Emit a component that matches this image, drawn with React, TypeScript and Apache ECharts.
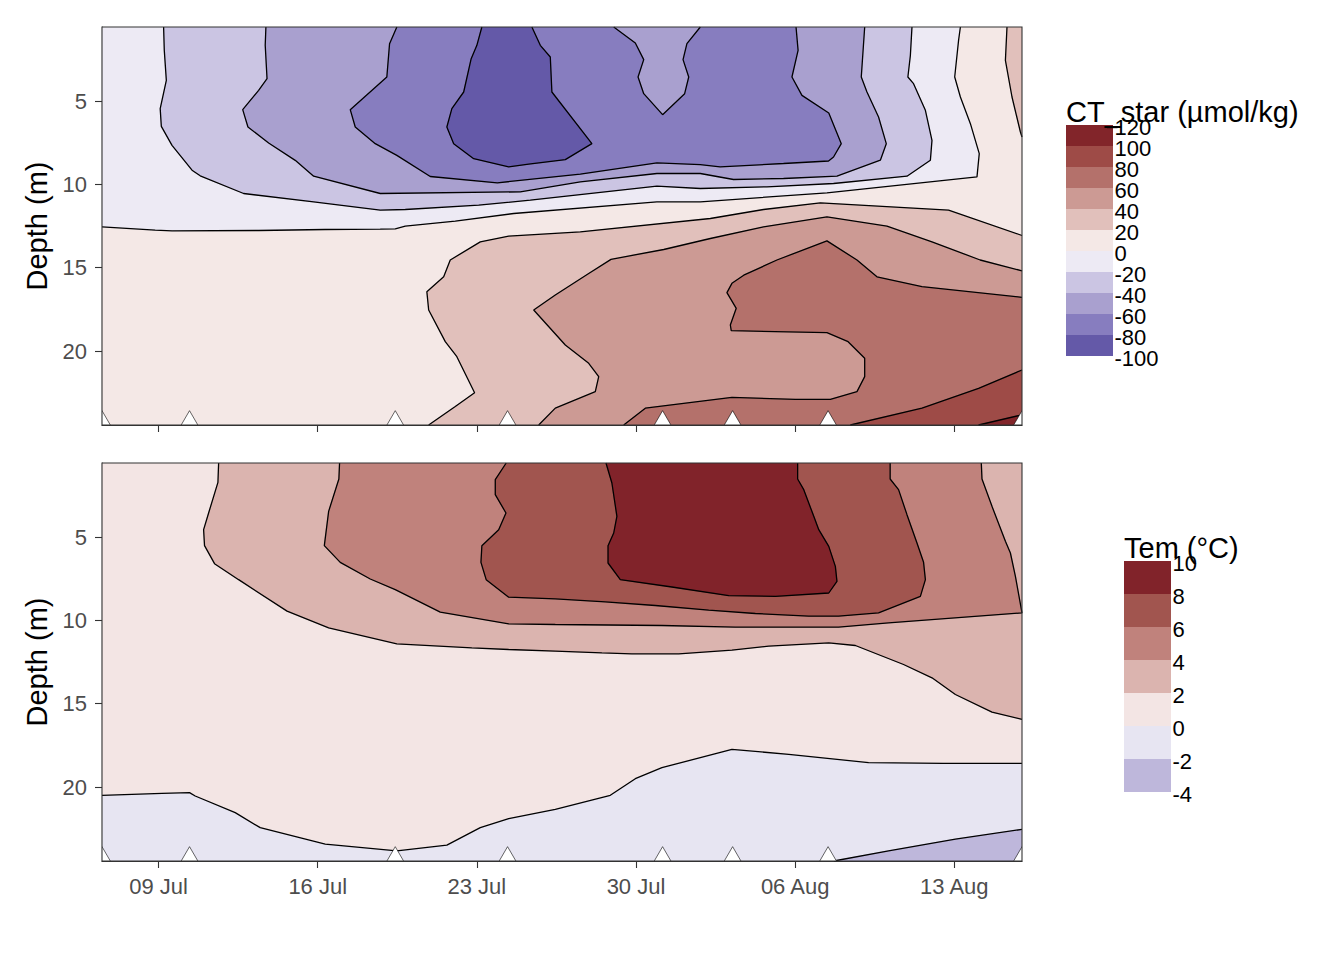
import React, { useEffect, useRef } from "react";
import * as echarts from "echarts";

type Pt = [number, number];

// x = day counted from 0 July (Aug n = 31 + n); y = depth (m)
const X_MIN = 6.51;
const X_MAX = 46.98;
const Y_MIN = 0.56;
const Y_MAX = 24.44;

const dateTicks = [9, 16, 23, 30, 37, 44];
const dateLabels = ["09 Jul", "16 Jul", "23 Jul", "30 Jul", "06 Aug", "13 Aug"];
const depthTicks = [5, 10, 15, 20];
const sampleDays = [6.51, 10.36, 19.41, 24.35, 31.17, 34.25, 38.45, 46.98];

const ctLevels = [-100, -80, -60, -40, -20, 0, 20, 40, 60, 80, 100, 120];
const ctColors = ["#6459A8", "#877DBF", "#A9A0CF", "#CBC5E3", "#EDEAF4", "#F4E8E6", "#E1C0BB", "#CC9A94", "#B4716B", "#9E4B47", "#82252A"];
const temLevels = [-4, -2, 0, 2, 4, 6, 8, 10];
const temColors = ["#BEB7DB", "#E7E5F2", "#F3E5E4", "#DBB4AF", "#C0827C", "#A1554F", "#81232A"];

// ---- CT_star contour lines ----
const ctM80: Pt[] = [[23.22, Y_MIN], [23.0, 1.66], [22.75, 2.46], [22.42, 4.46], [21.9, 5.46], [21.68, 6.56], [21.98, 7.56], [22.86, 8.46], [24.4, 8.95], [25.28, 8.79], [26.89, 8.52], [28.06, 7.56], [26.3, 4.46], [26.23, 2.36], [25.79, 1.66], [25.42, Y_MIN]];
const ctM60a: Pt[] = [[19.48, Y_MIN], [19.16, 1.56], [19.04, 3.56], [17.43, 5.52], [17.65, 6.56], [18.53, 7.56], [19.48, 8.26], [20.95, 9.53], [23.9, 9.91], [27.55, 9.39], [30.92, 8.71], [32.83, 8.82], [33.7, 8.95], [36.49, 8.75], [38.47, 8.6], [38.69, 8.36], [39.03, 7.56], [38.48, 5.72], [37.3, 4.66], [36.86, 3.56], [37.13, 1.96], [37.04, Y_MIN]];
const ctM60b: Pt[] = [[32.83, Y_MIN], [32.24, 1.56], [32.07, 2.52], [32.32, 3.56], [32.14, 4.56], [31.17, 5.82], [30.34, 4.56], [30.09, 3.56], [30.34, 2.52], [29.97, 1.52], [29.02, Y_MIN]];
const ctM40: Pt[] = [[13.72, Y_MIN], [13.69, 1.66], [13.77, 3.66], [13.4, 4.36], [12.7, 5.52], [12.93, 6.56], [13.84, 7.52], [15.01, 8.56], [15.82, 9.51], [18.75, 10.55], [24.91, 10.45], [27.55, 9.85], [30.92, 9.35], [32.83, 9.35], [34.29, 9.71], [36.49, 9.65], [38.84, 9.51], [40.75, 8.55], [41.01, 7.56], [40.67, 5.96], [40.16, 4.46], [39.91, 3.56], [40.06, Y_MIN]];
const ctM20: Pt[] = [[9.22, Y_MIN], [9.25, 1.96], [9.34, 3.76], [9.07, 5.46], [9.12, 6.52], [9.59, 7.66], [10.47, 9.15], [10.83, 9.49], [12.74, 10.55], [15.82, 11.05], [18.75, 11.55], [19.85, 11.51], [23.08, 11.25], [25.35, 10.95], [30.92, 10.11], [32.83, 10.25], [35.76, 10.15], [38.69, 9.95], [41.92, 9.51], [42.95, 8.55], [43.02, 7.36], [42.73, 5.56], [42.21, 3.96], [41.96, 3.56], [42.07, 2.26], [42.14, Y_MIN]];
const ct0: Pt[] = [[X_MIN, 12.55], [8.85, 12.75], [9.59, 12.79], [13.4, 12.77], [16.33, 12.71], [18.75, 12.69], [19.41, 12.67], [19.85, 12.51], [22.05, 12.21], [24.62, 11.75], [30.92, 11.05], [32.83, 11.05], [38.4, 10.51], [45.0, 9.55], [45.1, 8.16], [44.71, 6.36], [44.27, 4.76], [44.02, 3.56], [44.19, 1.36], [44.27, Y_MIN]];
const ct20a: Pt[] = [[20.88, Y_MAX], [22.05, 23.33], [22.9, 22.5], [22.12, 20.34], [21.61, 19.44], [20.88, 17.54], [20.8, 16.44], [21.54, 15.55], [21.83, 14.54], [23.15, 13.45], [24.4, 13.11], [27.55, 12.85], [33.27, 12.05], [35.61, 11.51], [38.11, 11.11], [43.75, 11.55], [X_MAX, 13.07]];
const ct20b: Pt[] = [[46.32, Y_MIN], [46.25, 2.56], [46.54, 4.76], [46.91, 6.86], [X_MAX, 7.16]];
const ct40: Pt[] = [[X_MAX, 15.19], [45.14, 14.54], [43.02, 13.45], [41.04, 12.51], [38.4, 11.95], [35.61, 12.55], [33.27, 13.25], [31.22, 13.91], [28.9, 14.5], [27.92, 15.35], [26.45, 16.64], [25.5, 17.54], [26.89, 19.64], [27.92, 20.74], [28.36, 21.54], [28.21, 22.44], [26.45, 23.43], [25.72, Y_MAX]];
const ct60: Pt[] = [[X_MAX, 16.78], [42.58, 16.14], [40.6, 15.55], [39.72, 14.54], [38.4, 13.39], [36.2, 14.54], [34.74, 15.45], [34.22, 15.94], [34.0, 16.5], [34.41, 17.44], [34.15, 18.44], [34.19, 18.78], [38.4, 18.9], [39.33, 19.44], [40.06, 20.44], [40.06, 21.54], [39.72, 22.44], [38.55, 22.9], [37.01, 22.9], [34.22, 22.78], [30.41, 23.43], [29.46, Y_MAX]];
const ct80: Pt[] = [[39.43, Y_MAX], [42.58, 23.43], [45.07, 22.24], [X_MAX, 21.14]];
const ct100: Pt[] = [[45.07, Y_MAX], [X_MAX, 23.83]];

// ---- Temperature contour lines ----
const tem2: Pt[] = [[11.64, Y_MIN], [11.61, 1.72], [11.2, 3.56], [10.98, 4.56], [11.02, 5.52], [11.46, 6.6], [12.52, 7.56], [14.65, 9.45], [16.48, 10.45], [19.48, 11.41], [22.78, 11.65], [24.4, 11.75], [26.45, 11.85], [28.5, 11.95], [29.82, 12.01], [31.88, 12.01], [34.22, 11.79], [35.84, 11.55], [38.48, 11.35], [39.65, 11.51], [41.77, 12.65], [43.02, 13.45], [44.05, 14.45], [45.66, 15.51], [X_MAX, 15.94]];
const tem4: Pt[] = [[16.96, Y_MIN], [16.93, 1.52], [16.48, 3.46], [16.29, 5.52], [16.99, 6.52], [18.31, 7.52], [19.41, 8.16], [21.39, 9.51], [24.4, 10.21], [26.45, 10.25], [31.14, 10.31], [34.37, 10.41], [38.91, 10.41], [41.11, 10.15], [X_MAX, 9.55], [46.69, 7.36], [46.47, 5.96], [46.25, 5.26], [45.66, 3.16], [45.22, 1.52], [45.19, Y_MIN]];
const tem6: Pt[] = [[24.29, Y_MIN], [23.81, 1.56], [23.81, 2.46], [24.28, 3.56], [23.96, 4.56], [23.22, 5.52], [23.18, 6.52], [23.41, 7.56], [24.4, 8.61], [26.45, 8.71], [28.65, 8.89], [30.85, 9.11], [33.2, 9.39], [35.25, 9.59], [37.6, 9.75], [38.91, 9.75], [40.67, 9.55], [42.51, 8.56], [42.73, 7.56], [42.65, 6.52], [42.36, 5.36], [41.92, 3.66], [41.55, 2.16], [41.18, 1.52], [41.18, Y_MIN]];
const tem8: Pt[] = [[28.68, Y_MIN], [28.94, 1.76], [29.16, 3.76], [29.02, 4.76], [28.77, 5.52], [28.77, 6.56], [29.31, 7.56], [31.58, 8.0], [34.08, 8.52], [36.13, 8.56], [38.48, 8.36], [38.84, 7.66], [38.77, 6.76], [38.48, 5.56], [38.04, 4.56], [37.82, 3.76], [37.38, 2.16], [37.11, 1.52], [37.11, Y_MIN]];
const tem0: Pt[] = [[X_MIN, 20.5], [7.83, 20.44], [9.15, 20.38], [10.36, 20.34], [10.61, 20.54], [12.37, 21.54], [13.47, 22.44], [16.33, 23.43], [19.48, 23.83], [21.68, 23.49], [23.15, 22.44], [24.4, 21.9], [26.45, 21.34], [28.87, 20.5], [29.97, 19.5], [31.14, 18.84], [34.22, 17.74], [36.72, 18.04], [40.23, 18.54], [43.53, 18.58], [X_MAX, 18.58]];
const temM2: Pt[] = [[38.7, Y_MAX], [41.11, 23.83], [44.05, 23.13], [X_MAX, 22.54]];

const FULL: Pt[] = [[X_MIN, Y_MIN], [X_MAX, Y_MIN], [X_MAX, Y_MAX], [X_MIN, Y_MAX]];

type Fill = { band: number; ring: Pt[] };

const ctFills: Fill[] = [
  { band: 5, ring: FULL },
  { band: 4, ring: [...ct0, [X_MIN, Y_MIN]] },
  { band: 3, ring: ctM20 },
  { band: 2, ring: ctM40 },
  { band: 1, ring: [...ctM60a, ...ctM60b] },
  { band: 0, ring: ctM80 },
  { band: 6, ring: [...ct20a, [X_MAX, Y_MAX]] },
  { band: 6, ring: [...ct20b, [X_MAX, Y_MIN]] },
  { band: 7, ring: [...ct40, [X_MAX, Y_MAX]] },
  { band: 8, ring: [...ct60, [X_MAX, Y_MAX]] },
  { band: 9, ring: [...ct80, [X_MAX, Y_MAX]] },
  { band: 10, ring: [...ct100, [X_MAX, Y_MAX]] },
];
const ctLines: Pt[][] = [ctM80, ctM60a, ctM60b, ctM40, ctM20, ct0, ct20a, ct20b, ct40, ct60, ct80, ct100];

const temFills: Fill[] = [
  { band: 2, ring: FULL },
  { band: 3, ring: [...tem2, [X_MAX, Y_MIN]] },
  { band: 4, ring: tem4 },
  { band: 5, ring: tem6 },
  { band: 6, ring: tem8 },
  { band: 1, ring: [...tem0, [X_MAX, Y_MAX], [X_MIN, Y_MAX]] },
  { band: 0, ring: [...temM2, [X_MAX, Y_MAX]] },
];
const temLines: Pt[][] = [tem2, tem4, tem6, tem8, tem0, temM2];

// ---- layout ----
const FONT = "'Liberation Sans', Arial, sans-serif";
const GL = 102;
const GW = 920;
const GH = 398;
const GT = [27, 463];

function buildOption() {
  const series: any[] = [];
  const panels = [
    { fills: ctFills, colors: ctColors, lines: ctLines },
    { fills: temFills, colors: temColors, lines: temLines },
  ];
  panels.forEach((p, gi) => {
    series.push({
      type: "custom",
      xAxisIndex: gi,
      yAxisIndex: gi,
      clip: true,
      silent: true,
      z: 1,
      data: p.fills.map((f, i) => [f.ring[0][0], f.ring[0][1], i]),
      renderItem: (params: any, api: any) => {
        const f = p.fills[params.dataIndex];
        const c = p.colors[f.band];
        return {
          type: "polygon",
          shape: { points: f.ring.map((pt) => api.coord(pt)) },
          style: { fill: c, stroke: c, lineWidth: 0.6 },
        };
      },
    });
    p.lines.forEach((ln) => {
      series.push({
        type: "line",
        xAxisIndex: gi,
        yAxisIndex: gi,
        data: ln,
        showSymbol: false,
        symbol: "none",
        silent: true,
        clip: true,
        z: 3,
        lineStyle: { color: "#000", width: 1.3 },
      });
    });
    series.push({
      type: "custom",
      xAxisIndex: gi,
      yAxisIndex: gi,
      clip: true,
      silent: true,
      z: 4,
      data: sampleDays.map((d) => [d, Y_MAX]),
      renderItem: (params: any, api: any) => {
        const [cx, cy] = api.coord([api.value(0), api.value(1)]);
        const w = 25;
        const h = 21.5;
        return {
          type: "polygon",
          shape: { points: [[cx, cy - (2 * h) / 3], [cx - w / 2, cy + h / 3], [cx + w / 2, cy + h / 3]] },
          style: { fill: "#fff", stroke: "#000", lineWidth: 0.6 },
        };
      },
    });
  });

  const graphic: any[] = [];
  GT.forEach((t) => {
    graphic.push({
      type: "rect",
      z: 100,
      silent: true,
      shape: { x: GL, y: t, width: GW, height: GH },
      style: { fill: "none", stroke: "#333", lineWidth: 1.1 },
    });
  });

  const legend = (title: string, levels: number[], colors: string[], x: number, top: number, keyH: number, titleY: number) => {
    const n = colors.length;
    graphic.push({
      type: "text", z: 100, x, y: titleY,
      style: { text: title, fontSize: 29, fontFamily: FONT, fill: "#000", align: "left", verticalAlign: "middle" },
    });
    for (let i = 0; i < n; i++) {
      graphic.push({
        type: "rect", z: 99,
        shape: { x, y: top + i * keyH, width: 47, height: keyH },
        style: { fill: colors[n - 1 - i] },
      });
    }
    for (let i = 0; i <= n; i++) {
      graphic.push({
        type: "text", z: 101, x: x + 48.5, y: top + i * keyH + 2.5,
        style: { text: String(levels[n - i]), fontSize: 22, fontFamily: FONT, fill: "#000", align: "left", verticalAlign: "middle" },
      });
    }
  };
  legend("CT_star (µmol/kg)", ctLevels, ctColors, 1066, 125, 21, 112);
  legend("Tem (°C)", temLevels, temColors, 1124, 561, 33, 548);
  graphic.push({
    type: "line", z: 102,
    shape: { x1: 1107, y1: 127.5, x2: 1117.5, y2: 127.5 },
    style: { stroke: "#000", lineWidth: 1.4 },
  });

  const xAxis = GT.map((_, gi) => ({
    type: "value",
    gridIndex: gi,
    min: X_MIN,
    max: X_MAX,
    axisLine: { show: true, lineStyle: { color: "#333", width: 1.1 } },
    axisTick: { show: true, length: 7, customValues: dateTicks, lineStyle: { color: "#333", width: 1.1 } },
    axisLabel: {
      show: gi === 1,
      customValues: dateTicks,
      formatter: (v: number) => dateLabels[dateTicks.indexOf(Math.round(v))] ?? "",
      color: "#4D4D4D",
      fontSize: 22,
      fontFamily: FONT,
      margin: 14,
    },
    splitLine: { show: false },
  }));
  const yAxis = GT.map((_, gi) => ({
    type: "value",
    gridIndex: gi,
    inverse: true,
    min: Y_MIN,
    max: Y_MAX,
    name: "Depth (m)",
    nameLocation: "middle",
    nameGap: 48,
    nameTextStyle: { fontSize: 29, fontFamily: FONT, color: "#000" },
    axisLine: { show: true, lineStyle: { color: "#333", width: 1.1 } },
    axisTick: { show: true, length: 7, customValues: depthTicks, lineStyle: { color: "#333", width: 1.1 } },
    axisLabel: { customValues: depthTicks, color: "#4D4D4D", fontSize: 22, fontFamily: FONT, margin: 15 },
    splitLine: { show: false },
  }));

  return {
    animation: false,
    backgroundColor: "#fff",
    textStyle: { fontFamily: FONT },
    grid: GT.map((t) => ({ left: GL, top: t, width: GW, height: GH })),
    xAxis,
    yAxis,
    series,
    graphic,
  };
}

export default function App() {
  const ref = useRef<HTMLDivElement>(null);
  useEffect(() => {
    if (!ref.current) return;
    const chart = echarts.init(ref.current, null, { renderer: "svg" });
    chart.setOption(buildOption() as any);
    return () => chart.dispose();
  }, []);
  return <div ref={ref} style={{ position: "absolute", left: 0, top: 0, width: 1344, height: 960 }} />;
}
